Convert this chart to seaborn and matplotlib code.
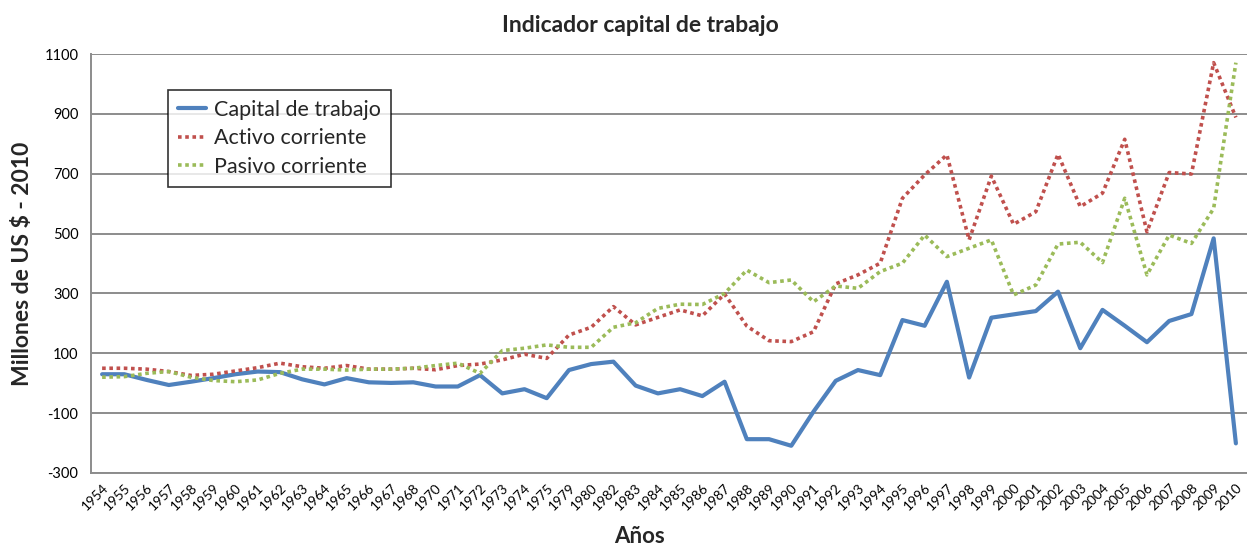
import numpy as np
import pandas as pd
import matplotlib
matplotlib.use("Agg")
import matplotlib.pyplot as plt
import seaborn as sns

years = ["1954","1955","1956","1957","1958","1959","1960","1961","1962","1963",
         "1964","1965","1966","1967","1968","1970","1971","1972","1973","1974",
         "1975","1979","1980","1982","1983","1984","1985","1986","1987","1988",
         "1989","1990","1991","1992","1993","1994","1995","1996","1997","1998",
         "1999","2000","2001","2002","2003","2004","2005","2006","2007","2008",
         "2009","2010"]

capital = [30, 30, 11, -6, 5, 17, 30, 39, 37, 13,
           -4, 17, 3, 1, 3, -11, -11, 27, -34, -20,
           -50, 44, 64, 72, -8, -34, -20, -43, 5, -187,
           -187, -209, -95, 8, 44, 27, 211, 192, 339, 19,
           219, 230, 241, 306, 117, 245, 192, 137, 208, 231,
           484, -201]

activo = [50, 50, 47, 39, 26, 30, 41, 52, 67, 55,
          50, 59, 47, 47, 50, 45, 59, 64, 78, 97,
          83, 161, 187, 256, 195, 220, 245, 225, 298, 191,
          142, 139, 172, 332, 362, 401, 618, 696, 763, 479,
          692, 531, 573, 765, 590, 635, 815, 506, 704, 699,
          1071, 888]

pasivo = [20, 22, 33, 39, 20, 9, 5, 11, 33, 47,
          47, 44, 47, 47, 50, 59, 67, 33, 109, 117,
          128, 120, 120, 187, 202, 250, 264, 263, 300, 378,
          336, 345, 272, 325, 317, 373, 401, 495, 423, 451,
          479, 295, 328, 465, 471, 403, 618, 362, 495, 467,
          584, 1071]

sns.set_theme(style="white")
plt.rcParams['font.family'] = ['Lato', 'DejaVu Sans']

W, H = 1247, 548
fig = plt.figure(figsize=(W / 100, H / 100), dpi=100)
ax = fig.add_axes([91 / W, 1 - 473 / H, (W - 91) / W, (473 - 54) / H])

x = np.arange(len(years))
df = pd.DataFrame({"x": x, "capital": capital, "activo": activo, "pasivo": pasivo})

sns.lineplot(data=df, x="x", y="capital", ax=ax, color="#4F81BD", linewidth=3,
             label="Capital de trabajo")
sns.lineplot(data=df, x="x", y="activo", ax=ax, color="#C0504D", linewidth=2.6,
             linestyle=(0, (1, 1)), label="Activo corriente")
sns.lineplot(data=df, x="x", y="pasivo", ax=ax, color="#9BBB59", linewidth=2.6,
             linestyle=(0, (1, 1)), label="Pasivo corriente")

ax.set_xlim(-0.5, len(years) - 1 + 0.18)
ax.set_ylim(-300, 1100)
ax.set_yticks(np.arange(-300, 1101, 200))
ax.set_yticklabels([str(v) for v in np.arange(-300, 1101, 200)], fontsize=10.5)
ax.yaxis.grid(True, color="#8c8c8c", linewidth=1.4)
ax.set_axisbelow(True)

ax.set_xticks(x)
ax.set_xticklabels(years, rotation=45, ha="right", rotation_mode="anchor", fontsize=9.8)
ax.set_xticks(np.arange(-0.5, len(years), 1), minor=True)
ax.tick_params(axis="x", which="major", length=0, pad=6)
ax.tick_params(axis="x", which="minor", length=5, color="#8c8c8c", width=1.2, direction="out")
ax.tick_params(axis="y", length=5, color="#8c8c8c", width=1.2, direction="out", pad=4)
ax.tick_params(axis="both", labelcolor="black")

for s in ["top", "right"]:
    ax.spines[s].set_visible(False)
for s in ["left", "bottom"]:
    ax.spines[s].set_color("#8c8c8c")
    ax.spines[s].set_linewidth(1.4)

ax.set_xlabel("Años", fontsize=16, fontweight="bold")
ax.set_ylabel("Millones de US $ - 2010", fontsize=16.5, fontweight="bold", labelpad=8)
fig.text(640 / W, 1 - 25 / H, "Indicador capital de trabajo", fontsize=16.5,
         fontweight="bold", ha="center", va="center")
ax.xaxis.set_label_coords((640 - 91) / (W - 91), -(526 - 473) / 419)

leg = ax.legend(loc="upper left", bbox_to_anchor=((168 - 91) / (W - 91), (473 - 90) / 419),
                fontsize=15.5, frameon=True, fancybox=False, edgecolor="black",
                borderpad=0.45, handlelength=1.3, handletextpad=0.4,
                labelspacing=0.4, borderaxespad=0)
leg.get_frame().set_linewidth(1.2)

fig.savefig("out.png", dpi=100)
